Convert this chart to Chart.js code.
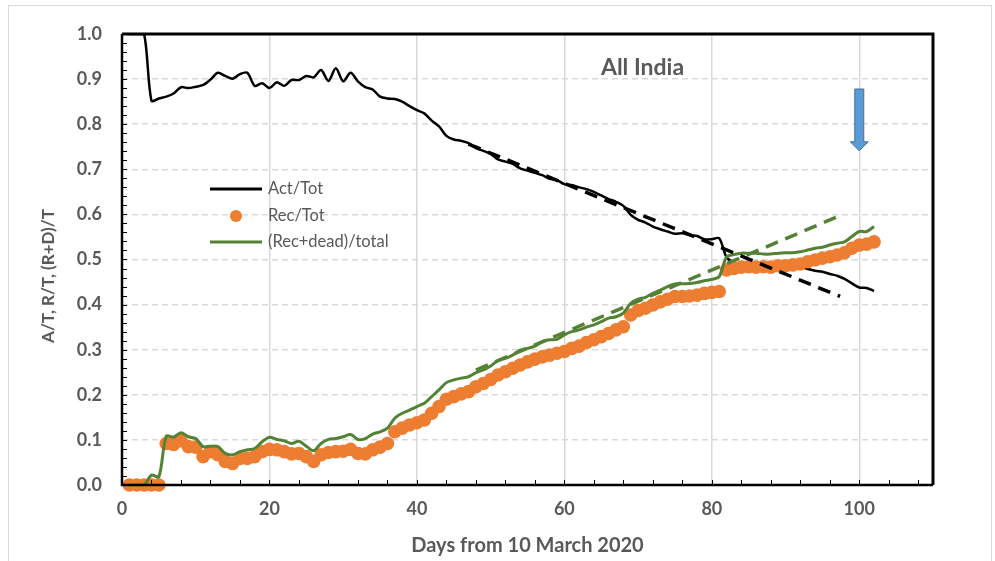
<!DOCTYPE html>
<html>
<head>
<meta charset="utf-8">
<script src="https://cdn.jsdelivr.net/npm/chart.js@4"></script>
<style>
  html, body { margin: 0; background: #fff; }
</style>
</head>
<body>
<canvas id="chart" width="995" height="561"></canvas>
<script>
// values, one per day (day 1 .. 102)
const actTot = [1.0,1.0,1.0,0.852,0.857,0.861,0.868,0.882,0.880,0.883,
  0.887,0.899,0.914,0.907,0.901,0.911,0.914,0.885,0.891,0.880,
  0.893,0.885,0.898,0.898,0.907,0.904,0.920,0.896,0.924,0.895,
  0.914,0.895,0.882,0.877,0.861,0.857,0.856,0.850,0.840,0.831,
  0.824,0.808,0.795,0.774,0.766,0.763,0.758,0.747,0.741,0.734,
  0.722,0.717,0.712,0.702,0.697,0.692,0.687,0.679,0.676,0.667,
  0.665,0.660,0.656,0.650,0.642,0.634,0.628,0.619,0.599,0.588,
  0.582,0.573,0.567,0.562,0.557,0.558,0.554,0.552,0.545,0.545,
  0.547,0.505,0.493,0.488,0.486,0.486,0.488,0.488,0.486,0.485,
  0.485,0.483,0.479,0.475,0.473,0.468,0.464,0.457,0.447,0.438,
  0.437,0.430];

const recTot = [0,0,0,0,0,0.092,0.090,0.098,0.085,0.084,
  0.063,0.074,0.067,0.052,0.048,0.059,0.059,0.063,0.074,0.079,
  0.078,0.074,0.069,0.070,0.063,0.052,0.067,0.072,0.074,0.075,
  0.079,0.070,0.069,0.078,0.084,0.092,0.118,0.126,0.133,0.138,
  0.144,0.159,0.174,0.190,0.196,0.202,0.207,0.218,0.225,0.234,
  0.244,0.251,0.259,0.266,0.273,0.279,0.284,0.288,0.292,0.296,
  0.303,0.308,0.316,0.322,0.329,0.336,0.344,0.351,0.377,0.387,
  0.392,0.399,0.406,0.412,0.418,0.418,0.419,0.421,0.425,0.427,
  0.429,0.477,0.480,0.483,0.484,0.483,0.484,0.483,0.486,0.486,
  0.488,0.490,0.495,0.499,0.503,0.506,0.510,0.515,0.525,0.532,
  0.534,0.539];

const recDeadTot = [0,0,0,0.022,0.018,0.108,0.106,0.116,0.107,0.103,
  0.085,0.086,0.085,0.070,0.067,0.074,0.078,0.081,0.096,0.106,
  0.101,0.098,0.092,0.097,0.086,0.076,0.092,0.101,0.103,0.107,
  0.112,0.101,0.103,0.113,0.118,0.126,0.148,0.159,0.166,0.174,
  0.181,0.196,0.211,0.227,0.233,0.237,0.240,0.249,0.255,0.264,
  0.276,0.281,0.288,0.299,0.303,0.308,0.318,0.322,0.323,0.333,
  0.340,0.344,0.350,0.355,0.362,0.370,0.373,0.381,0.403,0.412,
  0.416,0.425,0.432,0.440,0.446,0.446,0.447,0.449,0.453,0.456,
  0.462,0.506,0.511,0.514,0.514,0.514,0.512,0.512,0.514,0.515,
  0.515,0.517,0.521,0.525,0.527,0.532,0.536,0.539,0.551,0.562,
  0.562,0.573];

const days = actTot.map((_, i) => i + 1);

// dashed trend lines (end points)
const actTrendX = [47, 97.4];
const actTrendY = [0.756, 0.418];
const sumTrendX = [48, 97.2];
const sumTrendY = [0.255, 0.596];

const xTicks = [0, 20, 40, 60, 80, 100];
const yTicks = [0, 0.1, 0.2, 0.3, 0.4, 0.5, 0.6, 0.7, 0.8, 0.9, 1.0];

const FONT = "Lato, 'Liberation Sans', sans-serif";
const GREY = "#595959";

const pts = (xs, ys) => xs.map((v, i) => ({ x: v, y: ys[i] }));

// frame, minor ticks, legend, title text and arrow
const extras = {
  id: "extras",
  beforeDraw(chart) {
    const ctx = chart.ctx;
    ctx.save();
    ctx.strokeStyle = "#D9D9D9";
    ctx.lineWidth = 1;
    ctx.strokeRect(8.5, 5.5, 983, 600);
    ctx.restore();
  },
  afterDatasetsDraw(chart) {
    const { ctx, scales: { x, y } } = chart;
    ctx.save();
    // "All India"
    ctx.fillStyle = GREY;
    ctx.font = "bold 23px " + FONT;
    ctx.textAlign = "center";
    ctx.textBaseline = "middle";
    ctx.fillText("All India", x.getPixelForValue(70.6), y.getPixelForValue(0.925));

    // arrow at day 100
    const ax = x.getPixelForValue(100);
    const top = y.getPixelForValue(0.878), neck = y.getPixelForValue(0.761), tip = y.getPixelForValue(0.741);
    ctx.beginPath();
    ctx.moveTo(ax - 4.5, top); ctx.lineTo(ax + 4.5, top); ctx.lineTo(ax + 4.5, neck);
    ctx.lineTo(ax + 9, neck); ctx.lineTo(ax, tip); ctx.lineTo(ax - 9, neck);
    ctx.lineTo(ax - 4.5, neck); ctx.closePath();
    ctx.fillStyle = "#5B9BD5"; ctx.fill();
    ctx.strokeStyle = "#41719C"; ctx.lineWidth = 1; ctx.stroke();
    ctx.restore();
  },
  afterDraw(chart) {
    const { ctx, chartArea: a, scales: { x, y } } = chart;
    ctx.save();
    ctx.strokeStyle = "#000";
    ctx.lineWidth = 3;
    ctx.beginPath();
    ctx.moveTo(a.left, a.top); ctx.lineTo(a.right, a.top); ctx.lineTo(a.right, a.bottom);
    ctx.stroke();
    ctx.lineWidth = 2.5;
    ctx.beginPath();
    ctx.moveTo(a.left, a.top); ctx.lineTo(a.left, a.bottom); ctx.lineTo(a.right, a.bottom);
    ctx.stroke();

    // minor ticks (inside)
    ctx.lineWidth = 1;
    ctx.beginPath();
    for (let v = 0.02; v < 1; v += 0.02) {
      const py = Math.round(y.getPixelForValue(v)) + 0.5;
      ctx.moveTo(a.left, py); ctx.lineTo(a.left + 5, py);
    }
    for (let d = 4; d < 110; d += 4) {
      const px = Math.round(x.getPixelForValue(d)) + 0.5;
      ctx.moveTo(px, a.bottom); ctx.lineTo(px, a.bottom - 5);
    }
    ctx.stroke();

    // legend
    const lx = a.left + 88, tx = a.left + 146;
    const rows = [a.top + 155, a.top + 182, a.top + 208];
    ctx.lineWidth = 3;
    ctx.strokeStyle = "#000";
    ctx.beginPath(); ctx.moveTo(lx, rows[0]); ctx.lineTo(lx + 52, rows[0]); ctx.stroke();
    ctx.fillStyle = "#ED7D31";
    ctx.beginPath(); ctx.arc(lx + 26, rows[1], 6, 0, Math.PI * 2); ctx.fill();
    ctx.strokeStyle = "#548235";
    ctx.beginPath(); ctx.moveTo(lx, rows[2]); ctx.lineTo(lx + 52, rows[2]); ctx.stroke();
    ctx.fillStyle = GREY;
    ctx.font = "16.5px " + FONT;
    ctx.textAlign = "left";
    ctx.textBaseline = "middle";
    ctx.fillText("Act/Tot", tx, rows[0]);
    ctx.fillText("Rec/Tot", tx, rows[1]);
    ctx.fillText("(Rec+dead)/total", tx, rows[2]);

    // y axis title
    ctx.font = "bold 17px " + FONT;
    ctx.textAlign = "center";
    ctx.translate(49, 276);
    ctx.rotate(-Math.PI / 2);
    ctx.fillText("A/T, R/T, (R+D)/T", 0, 0);
    ctx.restore();
  }
};

new Chart(document.getElementById("chart"), {
  type: "line",
  data: {
    datasets: [
      {
        label: "Act trend",
        data: pts(actTrendX, actTrendY),
        borderColor: "#000",
        borderWidth: 3.5,
        borderDash: [13, 8],
        pointRadius: 0,
        order: 0
      },
      {
        label: "Sum trend",
        data: pts(sumTrendX, sumTrendY),
        borderColor: "#548235",
        borderWidth: 3.5,
        borderDash: [13, 8],
        pointRadius: 0,
        order: 1
      },
      {
        label: "(Rec+dead)/total",
        data: pts(days, recDeadTot),
        borderColor: "#548235",
        borderWidth: 3,
        pointRadius: 0,
        tension: 0.3,
        order: 2
      },
      {
        label: "Rec/Tot",
        data: pts(days, recTot),
        showLine: false,
        pointRadius: 6.8,
        pointBorderWidth: 0,
        pointBackgroundColor: "#ED7D31",
        borderColor: "#ED7D31",
        clip: 10,
        order: 3
      },
      {
        label: "Act/Tot",
        data: pts(days, actTot),
        borderColor: "#000",
        borderWidth: 2.5,
        pointRadius: 0,
        tension: 0.3,
        order: 4
      }
    ]
  },
  options: {
    responsive: false,
    animation: false,
    layout: { padding: { top: 34, right: 62, left: 0, bottom: 0 } },
    plugins: {
      legend: { display: false },
      tooltip: { enabled: false }
    },
    scales: {
      x: {
        type: "linear",
        min: 0,
        max: 110,
        afterBuildTicks: s => { s.ticks = xTicks.map(v => ({ value: v })); },
        afterFit: s => { s.height = 76; },
        grid: { color: "#D9D9D9", lineWidth: 1.5, drawTicks: false },
        border: { display: false },
        ticks: {
          padding: 13,
          color: GREY,
          font: { family: FONT, size: 18, weight: "bold" }
        },
        title: {
          display: true,
          text: "Days from 10 March 2020",
          color: GREY,
          font: { family: FONT, size: 20, weight: "bold" },
          padding: { top: 0, bottom: 3 }
        }
      },
      y: {
        min: 0,
        max: 1,
        afterBuildTicks: s => { s.ticks = yTicks.map(v => ({ value: v })); },
        afterFit: s => { s.width = 122; },
        grid: { color: "#D9D9D9", lineWidth: 1.5, drawTicks: false },
        border: { display: false, dash: [6, 4] },
        ticks: {
          padding: 20,
          color: GREY,
          font: { family: FONT, size: 18, weight: "bold" },
          callback: v => v.toFixed(1)
        }
      }
    }
  },
  plugins: [extras]
});
</script>
</body>
</html>
